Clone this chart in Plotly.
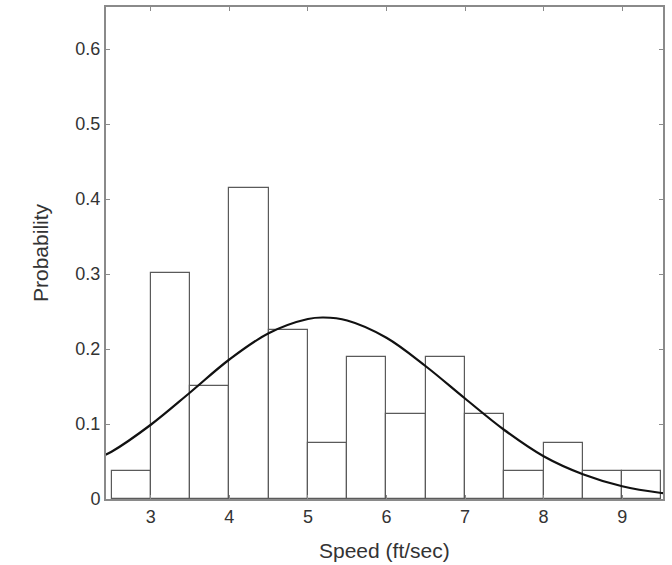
import plotly.graph_objects as go

bin_centers = [2.75, 3.25, 3.75, 4.25, 4.75, 5.25, 5.75, 6.25, 6.75, 7.25, 7.75, 8.25, 8.75, 9.25]
probabilities = [0.038, 0.302, 0.151, 0.415, 0.226, 0.075, 0.189, 0.113, 0.189, 0.113, 0.038, 0.075, 0.038, 0.038]

curve_x = [2.4, 2.5, 3.0, 3.5, 4.0, 4.5, 5.0, 5.2, 5.5, 6.0, 6.5, 7.0, 7.5, 8.0, 8.5, 9.0, 9.5, 9.55]
curve_y = [0.058, 0.063, 0.099, 0.142, 0.186, 0.221, 0.240, 0.242, 0.238, 0.215, 0.177, 0.134, 0.092, 0.057, 0.033, 0.017, 0.008, 0.0075]

x_ticks = [3, 4, 5, 6, 7, 8, 9]
y_ticks = [0, 0.1, 0.2, 0.3, 0.4, 0.5, 0.6]
y_tick_labels = ["0", "0.1", "0.2", "0.3", "0.4", "0.5", "0.6"]

FONT = "Liberation Sans, Arial, sans-serif"

fig = go.Figure()
fig.add_trace(go.Bar(
    x=bin_centers, y=probabilities, width=0.5,
    marker=dict(color="white", line=dict(color="#5a5a5a", width=1.2)),
    showlegend=False, hoverinfo="skip",
))
fig.add_trace(go.Scatter(
    x=curve_x, y=curve_y, mode="lines",
    line=dict(color="#111111", width=2.2, shape="spline"),
    showlegend=False, cliponaxis=True,
))

axis_common = dict(
    showgrid=False, zeroline=False, showline=True, linecolor="#8a8a8a", linewidth=2,
    mirror="ticks", ticks="inside", ticklen=4, tickcolor="#8a8a8a", tickwidth=1,
    tickfont=dict(family=FONT, size=18, color="#333333"),
    automargin=False,
)

fig.update_layout(
    width=672, height=565,
    margin=dict(l=106, r=9, t=7, b=66),
    paper_bgcolor="white", plot_bgcolor="white",
    bargap=0,
    xaxis=dict(range=[2.43, 9.52], tickvals=x_ticks, **axis_common),
    yaxis=dict(range=[0, 0.656], tickvals=y_ticks, ticktext=y_tick_labels, **axis_common),
    annotations=[
        dict(text="Speed (ft/sec)", xref="paper", yref="paper", x=0.5, y=0,
             xanchor="center", yanchor="middle", yshift=-51, showarrow=False,
             font=dict(family=FONT, size=21, color="#333333")),
        dict(text="Probability", xref="paper", yref="paper", x=0, y=0.5,
             xanchor="center", yanchor="middle", xshift=-66, textangle=-90, showarrow=False,
             font=dict(family=FONT, size=21, color="#333333")),
    ],
)

fig.write_html(
    "out.html",
    config={"displayModeBar": False},
    post_script="document.body.style.margin='0';document.body.style.overflow='hidden';",
)
